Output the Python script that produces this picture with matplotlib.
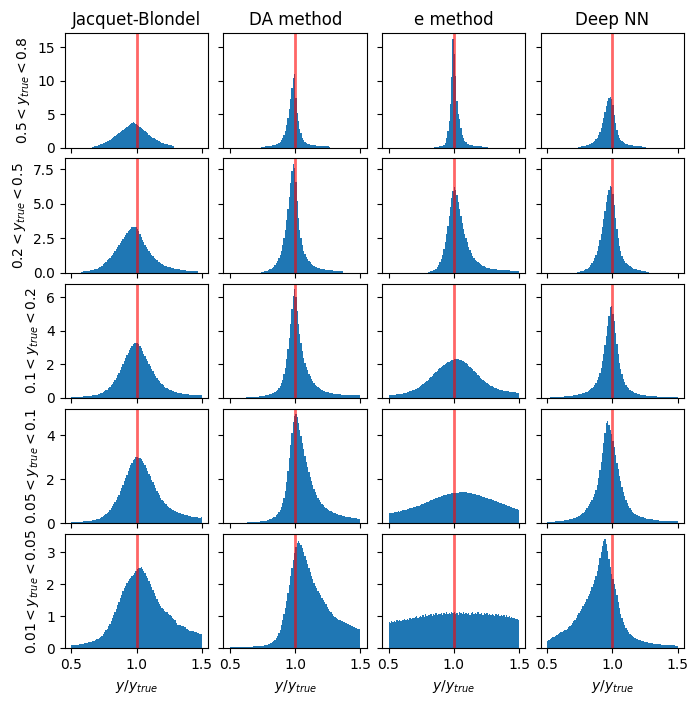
import numpy as np
import matplotlib
matplotlib.use("Agg")
import matplotlib.pyplot as plt

## bins: 100 bins of width 0.01 from 0.5 to 1.5, heights
edges = np.linspace(0.5, 1.5, 101)

methods = ["Jacquet-Blondel", "DA method", "e method", "Deep NN"]
y_ranges = ["0.5 < y_{true} < 0.8", "0.2 < y_{true} < 0.5", "0.1 < y_{true} < 0.2",
            "0.05 < y_{true} < 0.1", "0.01 < y_{true} < 0.05"]


def pad(start, vals):
    # zero bins where there are no events
    return [0] * start + vals + [0] * (100 - start - len(vals))


## row 1 : 0.5 < y_true < 0.8
jb_1 = pad(16, [0.15, 0.2, 0.25, 0.3,
                0.35, 0.4, 0.5, 0.55, 0.65, 0.75, 0.85, 0.95, 1.05, 1.2,
                1.35, 1.5, 1.65, 1.8, 1.95, 2.05, 2.2, 2.35, 2.5, 2.65,
                2.8, 2.95, 3.1, 3.25, 3.4, 3.55, 3.65, 3.75, 3.6, 3.5,
                3.3, 3.15, 3.0, 2.85, 2.7, 2.55, 2.4, 2.25, 2.1, 1.95,
                1.8, 1.65, 1.5, 1.4, 1.25, 1.15, 1.05, 0.95, 0.85, 0.75,
                0.7, 0.6, 0.55, 0.5, 0.45, 0.4, 0.35, 0.3, 0.25])
da_1 = pad(24, [0.1, 0.12, 0.15, 0.18, 0.2, 0.24,
                0.27, 0.3, 0.35, 0.4, 0.45, 0.5, 0.6, 0.7, 0.9, 1.1,
                1.4, 1.9, 2.5, 3.4, 4.4, 5.8, 7.2, 8.9, 10.4, 11.0,
                7.4, 5.2, 3.9, 2.8, 2.1, 1.5, 1.1, 0.85, 0.7, 0.6,
                0.5, 0.45, 0.42, 0.38, 0.35, 0.32, 0.3, 0.28, 0.26, 0.25,
                0.23, 0.22, 0.21, 0.2, 0.2, 0.18, 0.15])
e_1 = pad(35, [0.08, 0.1, 0.12, 0.14, 0.17,
               0.25, 0.3, 0.4, 0.65, 1.4, 2.4, 3.9, 6.5, 10.5, 16.3,
               14.0, 10.7, 6.9, 5.0, 4.2, 2.9, 1.9, 1.4, 1.0, 0.8,
               0.6, 0.5, 0.42, 0.36, 0.32, 0.28, 0.25, 0.23, 0.21, 0.2,
               0.18, 0.16, 0.15, 0.13, 0.12, 0.1])
nn_1 = pad(24, [0.12, 0.15, 0.18, 0.2, 0.25, 0.3,
                0.35, 0.4, 0.5, 0.6, 0.7, 0.85, 1.0, 1.25, 1.5, 1.9,
                2.3, 2.9, 3.6, 4.4, 5.3, 6.2, 6.9, 7.4, 7.5, 7.3,
                6.3, 4.9, 3.6, 2.6, 1.9, 1.5, 1.2, 0.95, 0.8, 0.65,
                0.55, 0.5, 0.45, 0.4, 0.35, 0.32, 0.3, 0.28, 0.25, 0.22,
                0.2, 0.2, 0.18, 0.15, 0.12, 0.1])

## row 2 : 0.2 < y_true < 0.5
jb_2 = pad(7, [0.05, 0.08, 0.1,
               0.1, 0.12, 0.13, 0.15, 0.17, 0.2, 0.22, 0.25, 0.28, 0.3,
               0.35, 0.4, 0.45, 0.5, 0.6, 0.7, 0.8, 0.9, 1.0, 1.1,
               1.2, 1.3, 1.45, 1.55, 1.7, 1.85, 2.0, 2.15, 2.3, 2.45,
               2.6, 2.7, 2.85, 3.0, 3.1, 3.2, 3.3, 3.35, 3.35, 3.3,
               3.15, 3.0, 2.8, 2.6, 2.4, 2.2, 2.0, 1.85, 1.7, 1.55,
               1.4, 1.3, 1.2, 1.1, 1.0, 0.9, 0.8, 0.75, 0.7, 0.6,
               0.55, 0.5, 0.48, 0.45, 0.42, 0.4, 0.37, 0.35, 0.32, 0.3,
               0.28, 0.26, 0.24, 0.22, 0.2, 0.2, 0.18, 0.17, 0.16, 0.15,
               0.14, 0.13, 0.12, 0.12, 0.11, 0.1, 0.1])
da_2 = pad(24, [0.05, 0.07, 0.1, 0.12, 0.15, 0.2,
                0.25, 0.3, 0.35, 0.45, 0.55, 0.7, 0.85, 1.05, 1.3, 1.6,
                2.0, 2.5, 3.1, 3.8, 4.6, 5.5, 6.5, 7.4, 7.9, 7.6,
                6.6, 5.2, 4.0, 3.1, 2.5, 2.0, 1.6, 1.35, 1.15, 1.0,
                0.85, 0.75, 0.65, 0.57, 0.5, 0.45, 0.4, 0.36, 0.33, 0.3,
                0.28, 0.26, 0.24, 0.22, 0.2, 0.2, 0.19, 0.18, 0.17, 0.16,
                0.15, 0.15, 0.14, 0.13, 0.12, 0.12, 0.1])
e_2 = pad(30, [0.05, 0.08, 0.1, 0.13, 0.17, 0.22, 0.3, 0.4, 0.55, 0.75,
               1.0, 1.3, 1.7, 2.2, 2.8, 3.4, 4.1, 4.8, 5.4, 5.9,
               6.2, 6.0, 5.6, 5.1, 4.6, 4.1, 3.6, 3.2, 2.8, 2.5,
               2.2, 1.9, 1.65, 1.45, 1.25, 1.1, 0.95, 0.85, 0.75, 0.68,
               0.62, 0.56, 0.5, 0.46, 0.42, 0.38, 0.35, 0.32, 0.3, 0.28,
               0.26, 0.25, 0.24, 0.23, 0.22, 0.21, 0.2, 0.2, 0.19, 0.18,
               0.18, 0.17, 0.17, 0.16, 0.16, 0.15, 0.15, 0.15, 0.14, 0.14])
nn_2 = pad(23, [0.05, 0.08, 0.1, 0.12, 0.15, 0.2, 0.25,
                0.3, 0.35, 0.45, 0.55, 0.7, 0.85, 1.05, 1.3, 1.6, 1.95,
                2.35, 2.8, 3.3, 3.9, 4.5, 5.1, 5.6, 6.0, 6.3, 6.2,
                5.7, 4.9, 4.0, 3.2, 2.5, 1.95, 1.55, 1.25, 1.0, 0.85,
                0.72, 0.62, 0.54, 0.46, 0.4, 0.35, 0.3, 0.27, 0.24, 0.22,
                0.2, 0.18, 0.16, 0.14, 0.12, 0.1, 0.08, 0.06])

## row 3 : 0.1 < y_true < 0.2
jb_3 = [0.05, 0.05, 0.06, 0.06, 0.06, 0.07, 0.07, 0.08, 0.08, 0.09,
        0.1, 0.1, 0.11, 0.12, 0.13, 0.14, 0.15, 0.17, 0.18, 0.2,
        0.22, 0.25, 0.28, 0.32, 0.36, 0.4, 0.45, 0.5, 0.57, 0.65,
        0.75, 0.85, 0.95, 1.08, 1.2, 1.35, 1.5, 1.65, 1.85, 2.0,
        2.2, 2.4, 2.55, 2.7, 2.85, 3.0, 3.1, 3.2, 3.25, 3.3,
        3.3, 3.2, 3.1, 2.95, 2.8, 2.65, 2.5, 2.35, 2.2, 2.05,
        1.9, 1.75, 1.6, 1.45, 1.3, 1.2, 1.1, 1.0, 0.9, 0.82,
        0.75, 0.68, 0.62, 0.57, 0.53, 0.49, 0.45, 0.42, 0.39, 0.36,
        0.34, 0.32, 0.3, 0.28, 0.27, 0.25, 0.24, 0.23, 0.22, 0.21,
        0.2, 0.19, 0.18, 0.18, 0.17, 0.17, 0.16, 0.16, 0.15, 0.15]
da_3 = [0, 0, 0, 0, 0, 0, 0, 0, 0, 0,
        0, 0, 0.03, 0.03, 0.04, 0.04, 0.05, 0.05, 0.06, 0.07,
        0.07, 0.08, 0.09, 0.1, 0.11, 0.12, 0.14, 0.16, 0.18, 0.2,
        0.22, 0.25, 0.28, 0.32, 0.37, 0.43, 0.5, 0.6, 0.72, 0.9,
        1.1, 1.4, 1.8, 2.3, 2.9, 3.6, 4.4, 5.3, 6.1, 6.5,
        6.0, 5.2, 4.4, 3.8, 3.3, 2.8, 2.4, 2.1, 1.85, 1.65,
        1.45, 1.28, 1.13, 1.0, 0.9, 0.8, 0.72, 0.65, 0.58, 0.52,
        0.48, 0.44, 0.4, 0.37, 0.35, 0.33, 0.31, 0.29, 0.27, 0.26,
        0.25, 0.24, 0.23, 0.22, 0.21, 0.2, 0.2, 0.19, 0.19, 0.18,
        0.18, 0.17, 0.17, 0.16, 0.16, 0.16, 0.15, 0.15, 0.15, 0.15]
e_3 = [0.15, 0.16, 0.17, 0.18, 0.19, 0.2, 0.21, 0.22, 0.23, 0.24,
       0.25, 0.27, 0.29, 0.31, 0.33, 0.36, 0.39, 0.42, 0.45, 0.48,
       0.52, 0.56, 0.6, 0.65, 0.7, 0.76, 0.82, 0.88, 0.95, 1.02,
       1.1, 1.17, 1.25, 1.33, 1.41, 1.49, 1.56, 1.63, 1.7, 1.77,
       1.84, 1.9, 1.96, 2.02, 2.07, 2.12, 2.16, 2.2, 2.24, 2.27,
       2.3, 2.3, 2.31, 2.3, 2.28, 2.25, 2.22, 2.18, 2.13, 2.07,
       2.0, 1.93, 1.86, 1.78, 1.7, 1.62, 1.54, 1.46, 1.38, 1.3,
       1.22, 1.15, 1.08, 1.01, 0.95, 0.89, 0.83, 0.78, 0.73, 0.69,
       0.65, 0.61, 0.58, 0.55, 0.52, 0.5, 0.48, 0.46, 0.44, 0.42,
       0.4, 0.39, 0.38, 0.37, 0.36, 0.35, 0.34, 0.33, 0.32, 0.3]
nn_3 = [0, 0, 0.04, 0.04, 0.05, 0.05, 0.05, 0.06, 0.06, 0.07,
        0.07, 0.08, 0.08, 0.09, 0.1, 0.1, 0.11, 0.12, 0.13, 0.14,
        0.15, 0.16, 0.17, 0.19, 0.21, 0.23, 0.25, 0.28, 0.31, 0.34,
        0.38, 0.42, 0.47, 0.53, 0.6, 0.68, 0.78, 0.9, 1.05, 1.25,
        1.5, 1.8, 2.2, 2.65, 3.15, 3.7, 4.3, 4.9, 5.4, 5.5,
        5.0, 4.6, 3.9, 3.2, 2.6, 2.1, 1.7, 1.4, 1.15, 0.95,
        0.8, 0.68, 0.58, 0.5, 0.44, 0.39, 0.34, 0.3, 0.27, 0.24,
        0.22, 0.2, 0.18, 0.17, 0.16, 0.15, 0.14, 0.13, 0.12, 0.11,
        0.1, 0.1, 0.09, 0.09, 0.08, 0.08, 0.07, 0.07, 0.07, 0.06,
        0.06, 0.06, 0.06, 0.05, 0.05, 0.05, 0.05, 0.05, 0.04, 0.04]

## row 4 : 0.05 < y_true < 0.1
jb_4 = [0.04, 0.04, 0.05, 0.05, 0.05, 0.06, 0.06, 0.07, 0.07, 0.08,
        0.08, 0.09, 0.1, 0.1, 0.11, 0.12, 0.13, 0.14, 0.15, 0.17,
        0.19, 0.21, 0.24, 0.27, 0.31, 0.35, 0.4, 0.46, 0.53, 0.6,
        0.68, 0.76, 0.85, 0.95, 1.05, 1.17, 1.3, 1.45, 1.6, 1.75,
        1.9, 2.05, 2.2, 2.35, 2.5, 2.62, 2.74, 2.85, 2.93, 3.0,
        3.02, 2.97, 2.95, 2.9, 2.82, 2.72, 2.62, 2.5, 2.38, 2.25,
        2.12, 1.98, 1.85, 1.72, 1.6, 1.48, 1.37, 1.26, 1.16, 1.07,
        0.99, 0.92, 0.85, 0.79, 0.74, 0.69, 0.65, 0.61, 0.58, 0.55,
        0.52, 0.5, 0.47, 0.45, 0.43, 0.41, 0.39, 0.37, 0.35, 0.34,
        0.32, 0.31, 0.3, 0.29, 0.28, 0.27, 0.26, 0.25, 0.24, 0.28]
da_4 = [0, 0, 0, 0, 0, 0.02, 0.02, 0.02, 0.02, 0.03,
        0.03, 0.03, 0.03, 0.04, 0.04, 0.04, 0.05, 0.05, 0.05, 0.06,
        0.06, 0.07, 0.07, 0.08, 0.09, 0.1, 0.11, 0.12, 0.14, 0.16,
        0.18, 0.2, 0.23, 0.26, 0.3, 0.35, 0.42, 0.5, 0.6, 0.72,
        0.9, 1.15, 1.45, 1.85, 2.35, 2.95, 3.55, 4.1, 4.6, 4.85,
        4.95, 4.8, 4.55, 4.25, 3.95, 3.65, 3.35, 3.05, 2.8, 2.55,
        2.32, 2.1, 1.9, 1.72, 1.55, 1.4, 1.27, 1.15, 1.05, 0.96,
        0.88, 0.81, 0.75, 0.7, 0.65, 0.61, 0.57, 0.54, 0.51, 0.48,
        0.45, 0.43, 0.41, 0.39, 0.37, 0.35, 0.33, 0.31, 0.3, 0.29,
        0.28, 0.27, 0.26, 0.25, 0.24, 0.23, 0.22, 0.21, 0.2, 0.19]
e_4 = [0.44, 0.46, 0.45, 0.48, 0.5, 0.49, 0.52, 0.54, 0.53, 0.56,
       0.58, 0.6, 0.59, 0.62, 0.64, 0.65, 0.67, 0.68, 0.7, 0.72,
       0.74, 0.76, 0.78, 0.8, 0.83, 0.85, 0.88, 0.9, 0.93, 0.95,
       0.98, 1.0, 1.03, 1.05, 1.08, 1.1, 1.13, 1.15, 1.18, 1.2,
       1.22, 1.24, 1.26, 1.28, 1.3, 1.31, 1.33, 1.34, 1.35, 1.36,
       1.37, 1.37, 1.38, 1.38, 1.4, 1.41, 1.4, 1.42, 1.41, 1.4,
       1.39, 1.38, 1.37, 1.36, 1.34, 1.33, 1.31, 1.3, 1.28, 1.26,
       1.24, 1.22, 1.2, 1.18, 1.16, 1.14, 1.12, 1.1, 1.08, 1.06,
       1.03, 1.01, 0.99, 0.97, 0.94, 0.92, 0.9, 0.88, 0.85, 0.83,
       0.81, 0.79, 0.77, 0.75, 0.73, 0.71, 0.69, 0.66, 0.64, 0.62]
nn_4 = [0.05, 0.05, 0.06, 0.06, 0.07, 0.07, 0.08, 0.08, 0.09, 0.09,
        0.1, 0.11, 0.12, 0.13, 0.14, 0.15, 0.16, 0.18, 0.19, 0.21,
        0.23, 0.25, 0.27, 0.3, 0.33, 0.37, 0.41, 0.46, 0.52, 0.6,
        0.68, 0.76, 0.85, 0.95, 1.05, 1.17, 1.32, 1.5, 1.75, 2.05,
        2.4, 2.8, 3.2, 3.65, 4.1, 4.55, 4.65, 4.45, 4.25, 4.05,
        3.75, 3.45, 3.1, 2.75, 2.45, 2.15, 1.9, 1.65, 1.42, 1.22,
        1.05, 0.9, 0.78, 0.68, 0.6, 0.53, 0.47, 0.42, 0.38, 0.35,
        0.32, 0.3, 0.28, 0.26, 0.24, 0.22, 0.21, 0.2, 0.19, 0.18,
        0.17, 0.16, 0.15, 0.14, 0.13, 0.13, 0.12, 0.12, 0.11, 0.11,
        0.1, 0.1, 0.1, 0.09, 0.09, 0.09, 0.08, 0.08, 0.08, 0.08]

## row 5 : 0.01 < y_true < 0.05
jb_5 = [0.1, 0.1, 0.11, 0.11, 0.12, 0.12, 0.13, 0.13, 0.14, 0.15,
        0.16, 0.16, 0.17, 0.19, 0.2, 0.21, 0.22, 0.24, 0.26, 0.28,
        0.3, 0.33, 0.36, 0.4, 0.45, 0.5, 0.56, 0.62, 0.69, 0.77,
        0.85, 0.94, 1.03, 1.13, 1.23, 1.34, 1.45, 1.56, 1.67, 1.78,
        1.88, 1.96, 2.04, 2.1, 2.16, 2.2, 2.25, 2.3, 2.35, 2.42,
        2.48, 2.52, 2.5, 2.53, 2.48, 2.42, 2.35, 2.27, 2.18, 2.09,
        2.0, 1.91, 1.82, 1.72, 1.63, 1.54, 1.45, 1.38, 1.32, 1.27,
        1.22, 1.18, 1.15, 1.12, 1.08, 1.04, 1.0, 0.96, 0.92, 0.88,
        0.8, 0.74, 0.72, 0.72, 0.7, 0.69, 0.68, 0.66, 0.62, 0.58,
        0.55, 0.54, 0.53, 0.53, 0.52, 0.5, 0.49, 0.47, 0.46, 0.44]
da_5 = [0.03, 0.03, 0.03, 0.03, 0.04, 0.04, 0.04, 0.04, 0.04, 0.04,
        0.04, 0.04, 0.05, 0.05, 0.05, 0.05, 0.05, 0.05, 0.06, 0.06,
        0.06, 0.06, 0.07, 0.07, 0.08, 0.08, 0.09, 0.1, 0.11, 0.13,
        0.15, 0.17, 0.19, 0.22, 0.26, 0.31, 0.38, 0.47, 0.58, 0.72,
        0.88, 1.06, 1.26, 1.48, 1.72, 1.98, 2.25, 2.52, 2.76, 2.98,
        3.15, 3.3, 3.36, 3.3, 3.22, 3.12, 3.0, 2.88, 2.76, 2.64,
        2.5, 2.38, 2.26, 2.15, 2.05, 1.96, 1.88, 1.8, 1.72, 1.65,
        1.58, 1.5, 1.44, 1.37, 1.3, 1.24, 1.18, 1.12, 1.06, 1.01,
        0.98, 0.95, 0.92, 0.9, 0.88, 0.86, 0.84, 0.82, 0.8, 0.78,
        0.76, 0.74, 0.72, 0.7, 0.68, 0.66, 0.64, 0.62, 0.61, 0.6]
e_5 = [0.82, 0.8, 0.84, 0.83, 0.86, 0.82, 0.87, 0.85, 0.88, 0.86,
       0.9, 0.87, 0.91, 0.9, 0.93, 0.89, 0.95, 0.92, 0.96, 0.94,
       0.97, 1.0, 0.95, 0.99, 1.02, 0.97, 1.04, 0.99, 1.06, 1.01,
       1.05, 1.03, 1.08, 1.02, 1.07, 1.05, 1.1, 1.04, 1.08, 1.06,
       1.09, 1.05, 1.1, 1.07, 1.12, 1.06, 1.11, 1.08, 1.15, 1.09,
       1.12, 1.07, 1.1, 1.04, 1.13, 1.09, 1.08, 1.12, 1.06, 1.1,
       1.08, 1.11, 1.05, 1.09, 1.13, 1.07, 1.1, 1.06, 1.12, 1.08,
       1.06, 1.1, 1.04, 1.09, 1.07, 1.11, 1.05, 1.08, 1.03, 1.07,
       1.05, 1.02, 1.08, 1.03, 1.06, 1.0, 1.05, 1.02, 1.04, 0.99,
       1.03, 0.98, 1.01, 0.95, 0.99, 0.94, 0.96, 0.92, 0.91, 0.9]
nn_5 = [0.23, 0.26, 0.28, 0.31, 0.34, 0.37, 0.4, 0.43, 0.45, 0.48,
        0.5, 0.52, 0.54, 0.56, 0.58, 0.62, 0.66, 0.7, 0.74, 0.78,
        0.84, 0.9, 0.96, 1.03, 1.1, 1.17, 1.24, 1.31, 1.38, 1.46,
        1.54, 1.62, 1.7, 1.8, 1.9, 2.0, 2.12, 2.25, 2.4, 2.6,
        2.82, 3.0, 3.2, 3.35, 3.4, 3.25, 3.05, 2.8, 2.55, 2.32,
        2.15, 2.0, 1.85, 1.65, 1.45, 1.25, 1.08, 0.95, 0.83, 0.73,
        0.64, 0.57, 0.51, 0.46, 0.42, 0.38, 0.35, 0.32, 0.3, 0.28,
        0.26, 0.25, 0.24, 0.22, 0.21, 0.2, 0.19, 0.18, 0.17, 0.16,
        0.16, 0.15, 0.15, 0.14, 0.14, 0.13, 0.13, 0.12, 0.12, 0.11,
        0.11, 0.11, 0.1, 0.1, 0.1, 0.09, 0.09, 0.09, 0.08, 0.08]

rows = [[jb_1, da_1, e_1, nn_1],
        [jb_2, da_2, e_2, nn_2],
        [jb_3, da_3, e_3, nn_3],
        [jb_4, da_4, e_4, nn_4],
        [jb_5, da_5, e_5, nn_5]]

fig, axes = plt.subplots(5, 4, figsize=(6.98, 7.04), sharex=True, sharey='row')
plt.subplots_adjust(left=0.093, right=0.98, top=0.953, bottom=0.079,
                    wspace=0.105, hspace=0.094)

centers = edges[:-1] + 0.005
for i in range(5):
    for j in range(4):
        ax = axes[i, j]
        ax.hist(centers, bins=edges, weights=rows[i][j])
        ax.axvline(1.0, color='red', alpha=0.6, lw=2)
        if i == 0:
            ax.set_title(methods[j])
        if i == 4:
            ax.set_xlabel(r'$y/y_{true}$')
    axes[i, 0].set_ylabel('$' + y_ranges[i] + '$')

plt.savefig("out.png", format='png', dpi=100)
plt.close()
